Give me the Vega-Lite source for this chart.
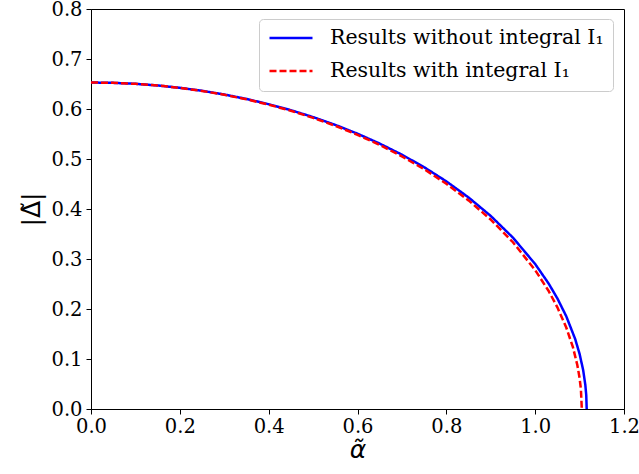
{
  "$schema": "https://vega.github.io/schema/vega-lite/v6.json",
  "autosize": {"type": "none"},
  "padding": {"left": 91, "top": 9, "right": 15, "bottom": 65},
  "width": 533,
  "height": 400,
  "background": "white",
  "config": {
    "view": {"stroke": "black", "strokeWidth": 1},
    "axis": {
      "grid": false,
      "domainColor": "black",
      "tickColor": "black",
      "tickSize": 5,
      "labelFont": "DejaVu Serif",
      "labelFontSize": 19.5,
      "labelColor": "black",
      "labelFlush": false,
      "titleFont": "DejaVu Sans",
      "titleFontSize": 25,
      "titleFontWeight": "normal",
      "titleColor": "black"
    }
  },
  "data": {
    "values": [
      {"a": 0.0, "d": 0.653, "s": "Results without integral I₁"},
      {"a": 0.05, "d": 0.6523, "s": "Results without integral I₁"},
      {"a": 0.1, "d": 0.6504, "s": "Results without integral I₁"},
      {"a": 0.15, "d": 0.6471, "s": "Results without integral I₁"},
      {"a": 0.2, "d": 0.6424, "s": "Results without integral I₁"},
      {"a": 0.25, "d": 0.6364, "s": "Results without integral I₁"},
      {"a": 0.3, "d": 0.629, "s": "Results without integral I₁"},
      {"a": 0.35, "d": 0.6201, "s": "Results without integral I₁"},
      {"a": 0.4, "d": 0.6096, "s": "Results without integral I₁"},
      {"a": 0.45, "d": 0.5976, "s": "Results without integral I₁"},
      {"a": 0.5, "d": 0.5838, "s": "Results without integral I₁"},
      {"a": 0.55, "d": 0.5682, "s": "Results without integral I₁"},
      {"a": 0.6, "d": 0.5506, "s": "Results without integral I₁"},
      {"a": 0.65, "d": 0.5308, "s": "Results without integral I₁"},
      {"a": 0.7, "d": 0.5086, "s": "Results without integral I₁"},
      {"a": 0.75, "d": 0.4836, "s": "Results without integral I₁"},
      {"a": 0.8, "d": 0.4553, "s": "Results without integral I₁"},
      {"a": 0.85, "d": 0.4231, "s": "Results without integral I₁"},
      {"a": 0.9, "d": 0.3861, "s": "Results without integral I₁"},
      {"a": 0.95, "d": 0.3427, "s": "Results without integral I₁"},
      {"a": 1.0, "d": 0.2899, "s": "Results without integral I₁"},
      {"a": 1.03, "d": 0.2514, "s": "Results without integral I₁"},
      {"a": 1.05, "d": 0.2212, "s": "Results without integral I₁"},
      {"a": 1.07, "d": 0.1855, "s": "Results without integral I₁"},
      {"a": 1.09, "d": 0.1401, "s": "Results without integral I₁"},
      {"a": 1.1, "d": 0.1102, "s": "Results without integral I₁"},
      {"a": 1.108, "d": 0.0781, "s": "Results without integral I₁"},
      {"a": 1.113, "d": 0.0478, "s": "Results without integral I₁"},
      {"a": 1.115, "d": 0.0276, "s": "Results without integral I₁"},
      {"a": 1.116, "d": 0.0, "s": "Results without integral I₁"},
      {"a": 0.0, "d": 0.653, "s": "Results with integral I₁"},
      {"a": 0.05, "d": 0.6523, "s": "Results with integral I₁"},
      {"a": 0.1, "d": 0.6503, "s": "Results with integral I₁"},
      {"a": 0.15, "d": 0.647, "s": "Results with integral I₁"},
      {"a": 0.2, "d": 0.6422, "s": "Results with integral I₁"},
      {"a": 0.25, "d": 0.6361, "s": "Results with integral I₁"},
      {"a": 0.3, "d": 0.6285, "s": "Results with integral I₁"},
      {"a": 0.35, "d": 0.6194, "s": "Results with integral I₁"},
      {"a": 0.4, "d": 0.6087, "s": "Results with integral I₁"},
      {"a": 0.45, "d": 0.5964, "s": "Results with integral I₁"},
      {"a": 0.5, "d": 0.5823, "s": "Results with integral I₁"},
      {"a": 0.55, "d": 0.5664, "s": "Results with integral I₁"},
      {"a": 0.6, "d": 0.5484, "s": "Results with integral I₁"},
      {"a": 0.65, "d": 0.5281, "s": "Results with integral I₁"},
      {"a": 0.7, "d": 0.5053, "s": "Results with integral I₁"},
      {"a": 0.75, "d": 0.4796, "s": "Results with integral I₁"},
      {"a": 0.8, "d": 0.4504, "s": "Results with integral I₁"},
      {"a": 0.85, "d": 0.4172, "s": "Results with integral I₁"},
      {"a": 0.9, "d": 0.3789, "s": "Results with integral I₁"},
      {"a": 0.95, "d": 0.3335, "s": "Results with integral I₁"},
      {"a": 1.0, "d": 0.2778, "s": "Results with integral I₁"},
      {"a": 1.03, "d": 0.2365, "s": "Results with integral I₁"},
      {"a": 1.05, "d": 0.2034, "s": "Results with integral I₁"},
      {"a": 1.07, "d": 0.163, "s": "Results with integral I₁"},
      {"a": 1.085, "d": 0.1237, "s": "Results with integral I₁"},
      {"a": 1.095, "d": 0.0876, "s": "Results with integral I₁"},
      {"a": 1.1, "d": 0.062, "s": "Results with integral I₁"},
      {"a": 1.103, "d": 0.0393, "s": "Results with integral I₁"},
      {"a": 1.105, "d": 0.0, "s": "Results with integral I₁"}
    ]
  },
  "mark": {"type": "line", "strokeWidth": 2.5, "clip": true},
  "encoding": {
    "x": {
      "field": "a", "type": "quantitative",
      "scale": {"domain": [0, 1.2], "nice": false, "zero": false},
      "axis": {"values": [0, 0.2, 0.4, 0.6, 0.8, 1.0, 1.2], "format": ".1f", "title": "α̃", "titlePadding": 2, "titleFontStyle": "italic", "labelPadding": 3}
    },
    "y": {
      "field": "d", "type": "quantitative",
      "scale": {"domain": [0, 0.8], "nice": false},
      "axis": {"values": [0, 0.1, 0.2, 0.3, 0.4, 0.5, 0.6, 0.7, 0.8], "format": ".1f", "title": "|Δ̃|", "titlePadding": 6, "labelPadding": 4}
    },
    "color": {
      "field": "s", "type": "nominal",
      "scale": {"domain": ["Results without integral I₁", "Results with integral I₁"], "range": ["#0000ff", "#ff0000"]},
      "legend": {
        "title": null,
        "orient": "none",
        "legendX": 168,
        "legendY": 10,
        "symbolType": "stroke",
        "symbolSize": 1849,
        "symbolStrokeWidth": 2.5,
        "clipHeight": 20,
        "labelFont": "DejaVu Serif",
        "labelFontSize": 20.5,
        "labelColor": "black",
        "labelLimit": 400,
        "fillColor": "white",
        "strokeColor": "#cccccc",
        "cornerRadius": 4,
        "padding": 9,
        "rowPadding": 12,
        "labelOffset": 16
      }
    },
    "strokeDash": {
      "field": "s", "type": "nominal",
      "scale": {"domain": ["Results without integral I₁", "Results with integral I₁"], "range": [[1, 0], [7, 3]]},
      "legend": null
    }
  }
}
